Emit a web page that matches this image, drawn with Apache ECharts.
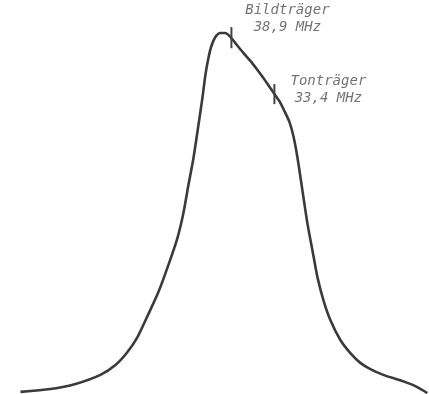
<!DOCTYPE html>
<html>
<head>
<meta charset="utf-8">
<script src="https://cdn.jsdelivr.net/npm/echarts@6/dist/echarts.min.js"></script>
<style>
  html, body { margin: 0; padding: 0; background: #ffffff; }
  #chart { width: 429px; height: 394px; }
</style>
</head>
<body>
<div id="chart"></div>
<script>
// Frequency (MHz) of each traced point of the pass-band curve
const freqMHz = [65.89, 62.05, 58.85, 55.66, 53.74, 52.20, 50.92, 49.64, 48.24, 46.96,
  45.81, 45.04, 44.40, 43.76, 43.12, 42.61, 42.23, 41.84, 41.46, 40.95,
  40.31, 39.67, 39.03, 38.39, 37.37, 36.47, 35.57, 34.81, 34.17, 33.40,
  32.76, 32.12, 31.48, 30.97, 30.46, 29.82, 29.18, 28.54, 27.90, 27.13,
  26.24, 24.96, 23.68, 22.40, 21.12, 19.46, 17.92, 16.64, 15.36, 13.83];

// Relative amplitude at each of those frequencies
const amplitude = [0.003, 0.011, 0.025, 0.050, 0.077, 0.113, 0.154, 0.212, 0.278, 0.353,
  0.427, 0.496, 0.573, 0.647, 0.738, 0.813, 0.876, 0.923, 0.956, 0.981,
  0.992, 0.992, 0.981, 0.964, 0.937, 0.915, 0.890, 0.868, 0.848, 0.824,
  0.804, 0.777, 0.747, 0.708, 0.650, 0.559, 0.468, 0.394, 0.320, 0.256,
  0.201, 0.146, 0.110, 0.083, 0.066, 0.050, 0.039, 0.030, 0.019, 0.000];

// Carrier markers: name, frequency, level on the curve, tick extent
const carrierNames = ['Bildträger', 'Tonträger'];
const carrierFreq = [38.9, 33.4];
const carrierLevel = [0.975, 0.824];
const carrierTickLow = [0.950, 0.796];
const carrierTickHigh = [1.008, 0.851];

const fmt = v => v.toFixed(1).replace('.', ',');

const curve = freqMHz.map((f, i) => [f, amplitude[i]]);

const tickSeries = carrierFreq.map((f, i) => ({
  type: 'line',
  data: [[f, carrierTickLow[i]], [f, carrierTickHigh[i]]],
  symbol: 'none',
  clip: false,
  lineStyle: { color: '#444', width: 2 },
  silent: true,
  z: 3
}));

const labelOffsets = [[56, -20], [54, -4]];

const chart = echarts.init(document.getElementById('chart'), null, { renderer: 'canvas' });
chart.setOption({
  backgroundColor: '#ffffff',
  animation: false,
  grid: { left: 4, right: 3, top: 1, bottom: 1 },
  xAxis: {
    type: 'value', min: 14, max: 68, inverse: true, show: false
  },
  yAxis: {
    type: 'value', min: 0, max: 1.08, show: false
  },
  series: [
    {
      type: 'line',
      data: curve,
      smooth: 0.25,
      symbol: 'none',
      clip: false,
      lineStyle: { color: '#3a3a3a', width: 2.6 },
      z: 2
    },
    ...tickSeries,
    {
      type: 'scatter',
      symbolSize: 1,
      itemStyle: { color: 'transparent' },
      silent: true,
      data: carrierFreq.map((f, i) => ({
        value: [f, carrierLevel[i]],
        label: {
          show: true,
          position: 'inside',
          offset: labelOffsets[i],
          formatter: carrierNames[i] + '\n' + fmt(f) + ' MHz',
          align: 'center',
          verticalAlign: 'middle',
          fontFamily: 'DejaVu Sans Mono',
          fontStyle: 'italic',
          fontSize: 14,
          lineHeight: 17,
          color: '#505050'
        }
      })),
      z: 4
    }
  ]
});
</script>
</body>
</html>
